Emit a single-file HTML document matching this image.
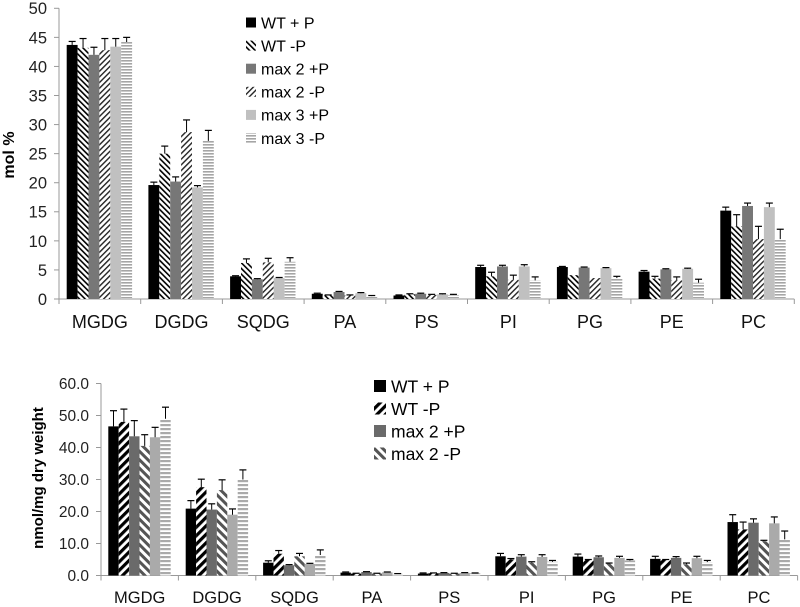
<!DOCTYPE html>
<html><head><meta charset="utf-8"><style>
html,body{margin:0;padding:0;background:#fff;}
svg{display:block;font-family:"Liberation Sans",sans-serif;}
</style></head><body>
<svg id="svg" width="800" height="607" viewBox="0 0 800 607">
<defs>
<pattern id="pA" width="4" height="4" patternUnits="userSpaceOnUse" patternTransform="rotate(-45)"><rect width="4" height="4" fill="#fff"/><rect width="1.6" height="4" fill="#000"/></pattern>
<pattern id="pB" width="4" height="4" patternUnits="userSpaceOnUse" patternTransform="rotate(45)"><rect width="4" height="4" fill="#fff"/><rect width="1.4" height="4" fill="#222"/></pattern>
<pattern id="pC" width="3" height="3" patternUnits="userSpaceOnUse"><rect width="3" height="3" fill="#fff"/><rect width="3" height="1.6" fill="#a5a5a5"/></pattern>
<pattern id="qA" width="6" height="6" patternUnits="userSpaceOnUse" patternTransform="rotate(45)"><rect width="6" height="6" fill="#fff"/><rect width="3.2" height="6" fill="#000"/></pattern>
<pattern id="qB" width="6" height="6" patternUnits="userSpaceOnUse" patternTransform="rotate(-45)"><rect width="6" height="6" fill="#fff"/><rect width="3" height="6" fill="#555"/></pattern>
<pattern id="qC" width="4" height="4" patternUnits="userSpaceOnUse"><rect width="4" height="4" fill="#fff"/><rect width="4" height="2.2" fill="#aaa"/></pattern>
</defs>
</svg>
<script>
const categories = ["MGDG","DGDG","SQDG","PA","PS","PI","PG","PE","PC"];
const topSeriesNames = ["WT + P","WT -P","max 2 +P","max 2 -P","max 3 +P","max 3 -P"];
const botLegendNames = ["WT + P","WT -P","max 2 +P","max 2 -P"];
const topTicks = [0,5,10,15,20,25,30,35,40,45,50];
const botTicks = ["0.0","10.0","20.0","30.0","40.0","50.0","60.0"];
// top chart values (mol %) per series, and error-bar tops
const topWTp   = [43.7,19.6,3.9,0.9,0.6,5.5,5.5,4.7,15.2];
const topWTm   = [43.2,25.0,6.2,0.6,0.8,3.9,4.1,3.5,12.5];
const topM2p   = [42.0,20.2,3.4,1.2,0.9,5.6,5.4,5.1,16.0];
const topM2m   = [42.8,28.7,6.3,0.6,0.7,3.3,3.6,3.2,10.3];
const topM3p   = [43.4,19.2,3.6,1.0,0.8,5.6,5.3,5.2,15.8];
const topM3m   = [44.2,27.2,6.4,0.5,0.7,3.2,3.6,2.8,10.3];
const topErrWTp = [44.3,20.1,4.0,1.0,0.7,5.8,5.6,4.9,15.8];
const topErrWTm = [44.8,26.3,6.9,0.7,0.9,4.6,4.1,3.9,14.5];
const topErrM2p = [43.3,21.0,3.5,1.3,1.0,5.8,5.5,5.2,16.5];
const topErrM2m = [44.8,30.8,7.0,0.7,0.8,4.1,3.6,3.8,12.5];
const topErrM3p = [44.8,19.5,3.7,1.1,0.9,5.9,5.4,5.3,16.5];
const topErrM3m = [45.0,29.0,7.1,0.6,0.8,3.8,3.9,3.4,12.0];
// bottom chart values (nmol/mg dry weight)
const botWTp   = [46.6,20.9,4.0,0.9,0.6,6.0,5.9,5.2,16.7];
const botWTm   = [48.0,27.6,6.8,0.6,0.7,5.0,4.9,4.9,14.4];
const botM2p   = [43.5,20.6,3.2,1.1,0.8,5.9,5.7,5.5,16.5];
const botM2m   = [40.5,26.7,6.0,0.6,0.6,4.0,3.75,3.5,10.7];
const botM3p   = [43.2,19.0,3.6,1.0,0.8,5.8,5.5,5.4,16.3];
const botM3m   = [49.0,30.0,6.4,0.5,0.7,4.3,4.7,4.2,11.3];
const botErrWTp = [51.5,23.4,4.6,1.1,0.8,6.9,6.7,6.0,19.0];
const botErrWTm = [52.0,30.1,7.8,0.7,0.8,5.3,5.0,5.0,16.7];
const botErrM2p = [48.4,22.4,3.4,1.2,0.9,6.5,6.1,5.9,17.7];
const botErrM2m = [44.0,29.9,6.9,0.7,0.7,4.3,3.9,3.9,11.0];
const botErrM3p = [46.3,20.8,3.8,1.1,0.9,6.5,6.0,6.0,18.3];
const botErrM3m = [52.6,33.0,8.0,0.6,0.8,4.7,5.0,4.7,13.9];

const svg = document.getElementById('svg');
const NS = "http://www.w3.org/2000/svg";
function mk(tag, attrs, parent){const e=document.createElementNS(NS,tag);for(const k in attrs)e.setAttribute(k,attrs[k]);(parent||svg).appendChild(e);return e;}

function drawChart(cfg){
  const g = mk('g',{});
  
  
  const y = v => cfg.y0 - (v - 0) / cfg.yMax * (cfg.y0 - cfg.yTop);
  const bw = cfg.bandW;
  const xBand = i => cfg.x0 + i*bw;
  const ya = mk('line',{x1:cfg.x0,y1:cfg.yTop,x2:cfg.x0,y2:cfg.y0,stroke:'#999','stroke-width':1},g);
  
  
  cfg.ticks.forEach(t=>{
    const v = parseFloat(t);
    mk('line',{x1:cfg.x0-5,x2:cfg.x0,y1:y(v),y2:y(v),stroke:'#999'},g);
    const tx = mk('text',{x:cfg.x0-12,y:y(v)+cfg.tickFs*0.36,'text-anchor':'end','font-size':cfg.tickFs,fill:'#222'},g);
    tx.textContent = t;
    
    
  });
  const xa = mk('line',{x1:cfg.x0,y1:cfg.y0,x2:xBand(categories.length),y2:cfg.y0,stroke:'#999'},g);
  
  
  for(let i=0;i<=categories.length;i++) mk('line',{x1:xBand(i),x2:xBand(i),y1:cfg.y0,y2:cfg.y0+5,stroke:'#999'},g);
  categories.forEach((c,i)=>{
    const tx = mk('text',{x:xBand(i)+bw/2,y:cfg.labelY,'text-anchor':'middle','font-size':cfg.catFs,fill:'#111'},g);
    tx.textContent = c;
    
    
  });
  cfg.series.forEach((s,si)=>{
    s.vals.forEach((v,i)=>{
      const bx = xBand(i)+cfg.off+si*cfg.barW;
      const r = mk('rect',{x:bx,y:y(v),width:cfg.barW,height:cfg.y0-y(v),fill:s.fill},g);
      
      
      const e = s.err[i];
      if(e>v){
        const cx = bx+cfg.barW/2;
        mk('line',{x1:cx,x2:cx,y1:y(v),y2:y(e),stroke:'#000','stroke-width':1},g);
        mk('line',{x1:cx-3.5,x2:cx+3.5,y1:y(e),y2:y(e),stroke:'#000','stroke-width':1.2},g);
      }
    });
  });
  const tt = mk('text',{x:cfg.titleX,y:cfg.titleY,'text-anchor':'middle','font-size':cfg.titleFs,'font-weight':'bold',fill:'#000',transform:`rotate(-90 ${cfg.titleX} ${cfg.titleY})`},g);
  tt.textContent = cfg.title;
  
  
  cfg.legend.forEach((L,li)=>{
    const ly = cfg.legY + li*cfg.legGap;
    const sw = mk('rect',{x:cfg.legX,y:ly-cfg.sq/2,width:cfg.sq,height:cfg.sq,fill:L.fill},g);
    
    
    const tx = mk('text',{x:cfg.legX+cfg.sq+5,y:ly+cfg.legFs*0.36,'font-size':cfg.legFs,fill:'#000'},g);
    tx.textContent = L.name;
    
    
  });
}

const topFills = ['#000','url(#pA)','#777','url(#pB)','#c0c0c0','url(#pC)'];
const topVals = [topWTp,topWTm,topM2p,topM2m,topM3p,topM3m];
const topErrs = [topErrWTp,topErrWTm,topErrM2p,topErrM2m,topErrM3p,topErrM3m];
drawChart({name:'mol-percent-chart',x0:59,y0:299,yTop:8.3,yMax:50,bandW:81.7,off:7.7,barW:10.9,
  ticks:topTicks.map(String),tickFs:16.5,catFs:18,labelY:328,
  series:topVals.map((v,i)=>({vals:v,err:topErrs[i],fill:topFills[i]})),
  title:'mol %',titleX:14,titleY:155,titleFs:16,
  legend:topSeriesNames.map((n,i)=>({name:n,fill:topFills[i]})),legX:246,legY:22.5,legGap:23.1,sq:10,legFs:16});

const botFills = ['#000','url(#qA)','#6a6a6a','url(#qB)','#aaa','url(#qC)'];
const botVals = [botWTp,botWTm,botM2p,botM2m,botM3p,botM3m];
const botErrs = [botErrWTp,botErrWTm,botErrM2p,botErrM2m,botErrM3p,botErrM3m];
drawChart({name:'nmol-dry-weight-chart',x0:101,y0:575.5,yTop:383.5,yMax:60,bandW:77.4,off:7.3,barW:10.4,
  ticks:botTicks,tickFs:15.5,catFs:16.5,labelY:603,
  series:botVals.map((v,i)=>({vals:v,err:botErrs[i],fill:botFills[i]})),
  title:'nmol/mg dry weight',titleX:43,titleY:478,titleFs:15,
  legend:botLegendNames.map((n,i)=>({name:n,fill:botFills[i]})),legX:374,legY:386,legGap:22.5,sq:12,legFs:17.5});
</script>
</body></html>
